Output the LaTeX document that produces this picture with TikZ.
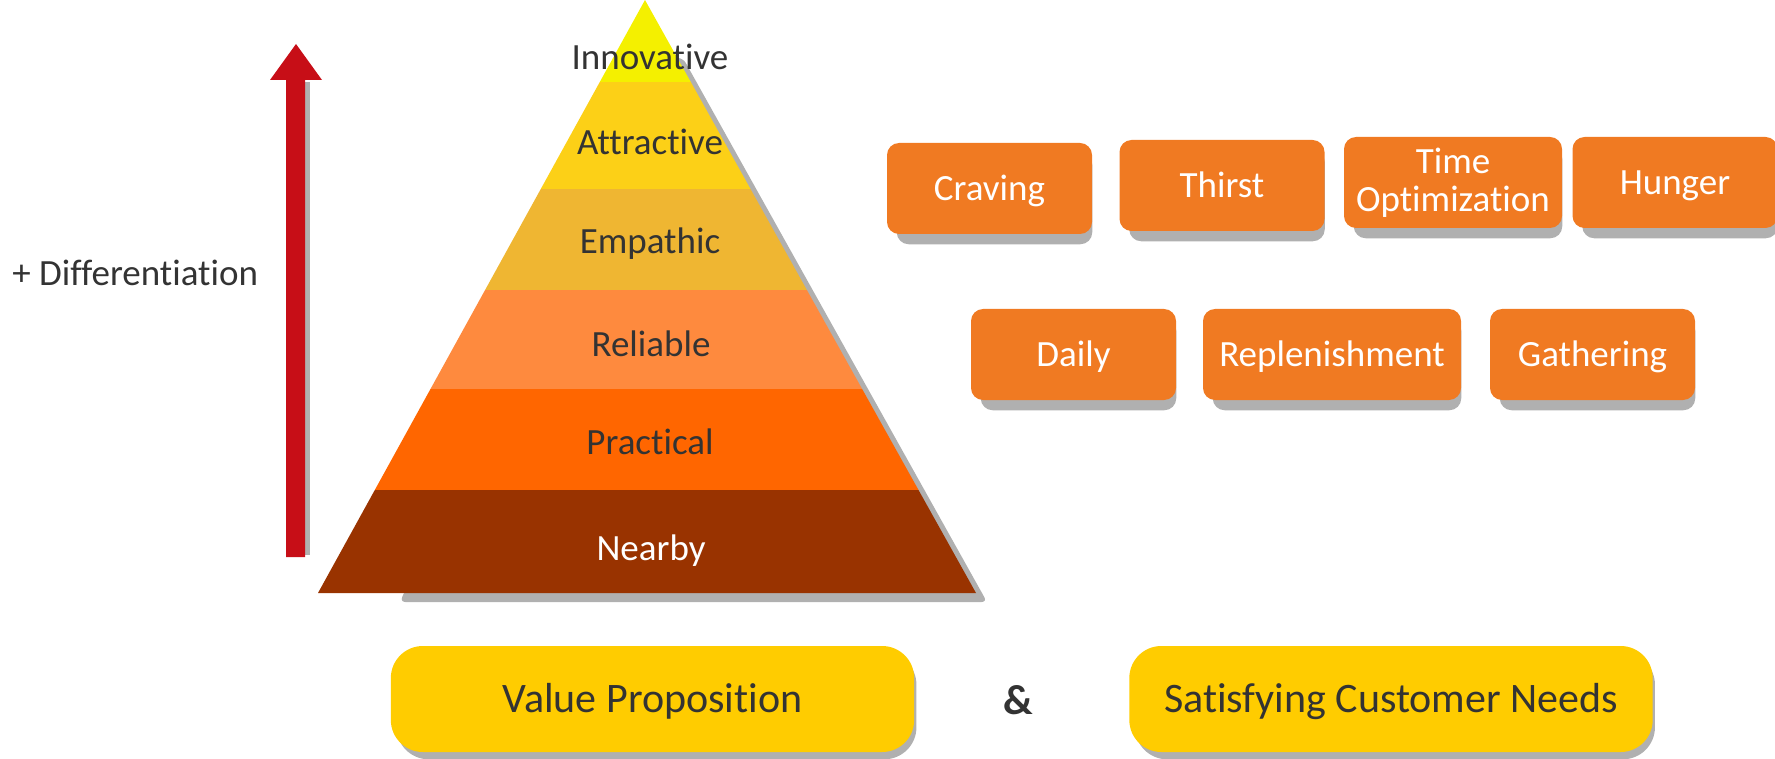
\documentclass[tikz,border=0pt]{standalone}
\usepackage{fontspec}
\setmainfont{Carlito}[RawFeature={-liga;-clig;-calt;-dlig}]
\usetikzlibrary{calc}

\definecolor{darktext}{HTML}{333333}
\definecolor{shadowgray}{HTML}{B0B0B0}
\definecolor{arrowred}{HTML}{C70E17}
\definecolor{needorange}{HTML}{F07A22}
\definecolor{goalyellow}{HTML}{FFCC00}
\definecolor{lvlinnov}{HTML}{F4F000}
\definecolor{lvlattr}{HTML}{FCD017}
\definecolor{lvlemp}{HTML}{EFB632}
\definecolor{lvlrel}{HTML}{FE8A3E}
\definecolor{lvlprac}{HTML}{FF6600}
\definecolor{lvlnear}{HTML}{993300}

\pgfdeclarelayer{background}
\pgfsetlayers{background,main}

\begin{document}
\begin{tikzpicture}[x=0.75pt,y=-0.75pt,
  needbox/.style={fill=needorange, rounded corners=9pt, text=white, inner sep=0pt,
    text height=17.9pt, text depth=0pt, font=\fontsize{27.75}{28.5}\selectfont,
    minimum height=68.25pt, minimum width=153.75pt},
  goalbox/.style={fill=goalyellow, rounded corners=24pt, text=darktext, inner sep=0pt,
    text height=20.3pt, text depth=0pt, font=\fontsize{31.5}{34}\selectfont,
    minimum height=79.5pt, minimum width=392.5pt},
  layerlabel/.style={anchor=base, text=darktext, inner sep=0pt,
    font=\fontsize{27.75}{33}\selectfont},
]
\useasboundingbox (0,0) rectangle (1775,759);

% ---- differentiation arrow ----
\fill[shadowgray] (305,82) rectangle (310,555);
\fill[arrowred] (286,557) -- (286,80) -- (270,80) -- (296,44) -- (322,80)
  -- (305,80) -- (305,557) -- cycle;
\node[anchor=base west, inner sep=0pt, text=darktext,
  font=\fontsize{27.75}{33}\selectfont] (diff) at (12,286) {+ Differentiation};

% ---- pyramid ----
\coordinate (apex) at (645,0);
\coordinate (bl) at (318,593);
\coordinate (br) at (976,593);
% drop shadow behind the right flank and the base
\fill[shadowgray, rounded corners=4pt] (640,58) -- (683,58) -- (987,602) -- (400,602) -- cycle;
\begin{scope}
  \clip (apex) -- (br) -- (bl) -- cycle;
  \fill[lvlinnov] (300,-5) rectangle (1000,82);
  \fill[lvlattr]  (300,82) rectangle (1000,189);
  \fill[lvlemp]   (300,189) rectangle (1000,290);
  \fill[lvlrel]   (300,290) rectangle (1000,389);
  \fill[lvlprac]  (300,389) rectangle (1000,490);
  \fill[lvlnear]  (300,490) rectangle (1000,594);
\end{scope}
\node[layerlabel] (innovative) at (650,70) {Innovative};
\node[layerlabel] (attractive) at (650,155) {Attractive};
\node[layerlabel] (empathic) at (650,254) {Empathic};
\node[layerlabel] (reliable) at (651,357) {Reliable};
\node[layerlabel] (practical) at (650,454) {Practical};
\node[layerlabel, text=white] (nearby) at (651,560) {Nearby};

% ---- customer needs ----
\node[needbox] (craving) at (989.5,188.5) {Craving};
\node[needbox] (thirst) at (1222,185.5) {Thirst};
\node[needbox, minimum width=163.5pt, align=center, text height={}, text depth={}]
  (timeopt) at (1453,182.5) {Time\\Optimization};
\node[needbox] (hunger) at (1675,182.5) {Hunger};
\node[needbox] (daily) at (1073.5,354.5) {Daily};
\node[needbox, minimum width=193.5pt] (replenish) at (1332,354.5) {Replenishment};
\node[needbox] (gathering) at (1592.5,354.5) {Gathering};

% ---- bottom banners ----
\node[goalbox] (valueprop) at (652.5,699) {Value Proposition};
\node[goalbox] (custneeds) at (1391,699) {Satisfying Customer Needs};
\node[inner sep=0pt, text=darktext, font=\fontsize{31.5}{34}\selectfont\bfseries]
  (amp) at (1018,700) {\&};

% ---- box shadows ----
\begin{pgfonlayer}{background}
  \foreach \b in {craving,thirst,timeopt,hunger,daily,replenish,gathering}
    \fill[shadowgray, rounded corners=9pt]
      ($(\b.north west)+(10,10)$) rectangle ($(\b.south east)+(0,10)$);
  \foreach \b in {valueprop,custneeds}
    \fill[shadowgray, rounded corners=24pt]
      ($(\b.north west)+(6,7)$) rectangle ($(\b.south east)+(2,7)$);
\end{pgfonlayer}
\end{tikzpicture}
\end{document}
